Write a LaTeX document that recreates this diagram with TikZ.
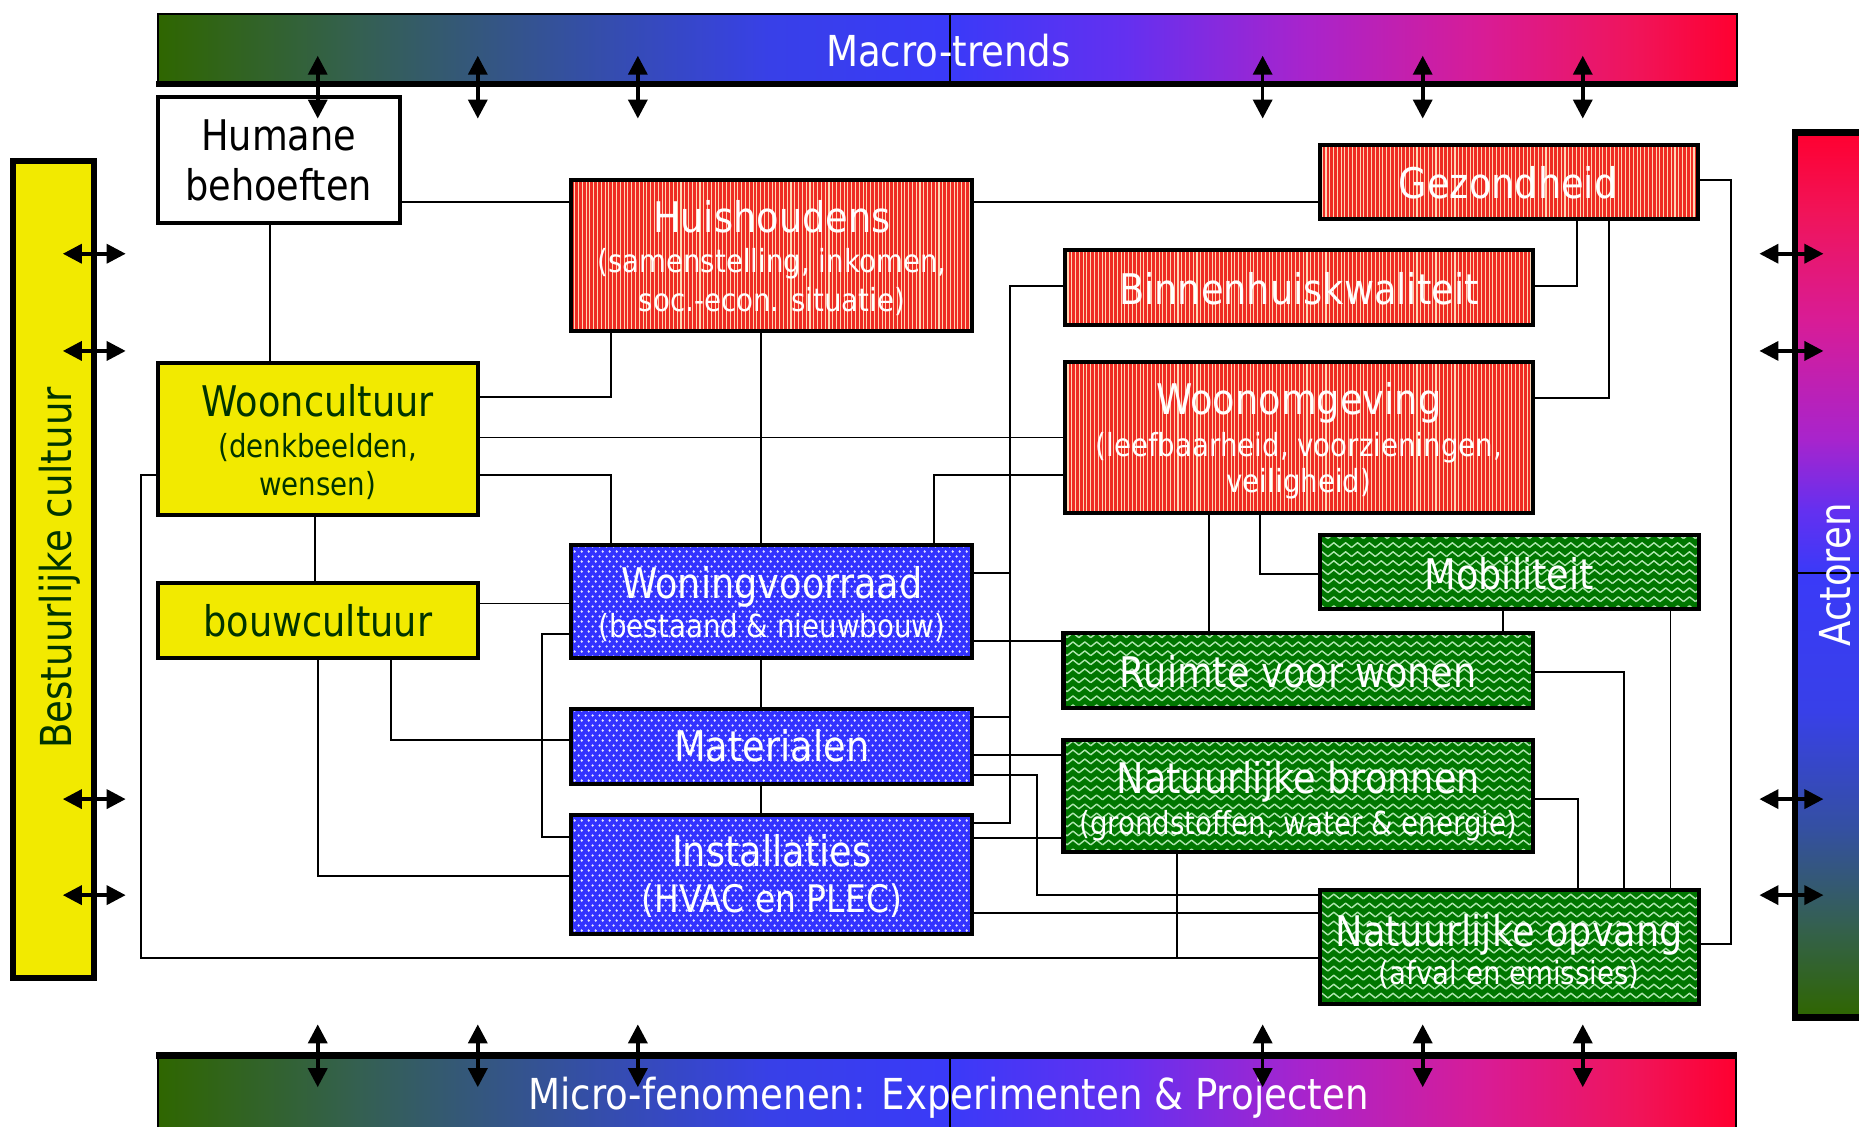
\documentclass[tikz,border=0pt]{standalone}
\usepackage{fontspec}
\setmainfont[FakeStretch=0.87]{DejaVu Sans}
\usetikzlibrary{arrows.meta,patterns}
\pgfdeclarelayer{bg}
\pgfsetlayers{bg,main}

\definecolor{redc}{RGB}{238,44,36}
\definecolor{stripec}{RGB}{255,214,180}
\definecolor{bluec}{RGB}{51,51,255}
\definecolor{dotc}{RGB}{230,230,255}
\definecolor{greenc}{RGB}{0,118,0}
\definecolor{zigc}{RGB}{175,230,175}
\definecolor{yel}{RGB}{242,234,0}
\definecolor{dkg}{RGB}{0,51,0}
% gradient colours
\definecolor{ga}{RGB}{47,102,0}
\definecolor{gb}{RGB}{52,96,80}
\definecolor{gc}{RGB}{52,80,160}
\definecolor{gd}{RGB}{56,64,232}
\definecolor{ge}{RGB}{58,58,248}
\definecolor{gf}{RGB}{100,48,240}
\definecolor{gg}{RGB}{168,36,204}
\definecolor{gh}{RGB}{216,28,150}
\definecolor{gi}{RGB}{240,20,90}
\definecolor{gj}{RGB}{255,0,48}

\pgfdeclarepatternformonly{vstripes}{\pgfqpoint{-0.1pt}{-0.1pt}}{\pgfqpoint{1.7pt}{1.7pt}}{\pgfqpoint{1.6pt}{1.6pt}}{%
  \pgfsetlinewidth{0.45pt}%
  \pgfpathmoveto{\pgfqpoint{0.8pt}{-0.1pt}}\pgfpathlineto{\pgfqpoint{0.8pt}{1.7pt}}\pgfusepath{stroke}}
\pgfdeclarepatternformonly{bdots}{\pgfqpoint{0pt}{0pt}}{\pgfqpoint{2.8pt}{4.2pt}}{\pgfqpoint{2.8pt}{4.2pt}}{%
  \pgfpathcircle{\pgfqpoint{0.7pt}{1.05pt}}{0.55pt}%
  \pgfpathcircle{\pgfqpoint{2.1pt}{3.15pt}}{0.55pt}%
  \pgfusepath{fill}}
\pgfdeclarepatternformonly{gzig}{\pgfqpoint{-0.5pt}{-0.5pt}}{\pgfqpoint{5.5pt}{4.3pt}}{\pgfqpoint{5pt}{3.8pt}}{%
  \pgfsetlinewidth{0.6pt}\pgfsetroundjoin%
  \pgfpathmoveto{\pgfqpoint{0pt}{0.9pt}}%
  \pgfpathlineto{\pgfqpoint{2.5pt}{2.9pt}}%
  \pgfpathlineto{\pgfqpoint{5pt}{0.9pt}}%
  \pgfusepath{stroke}}

\newcommand\fbig{\fontsize{17.8}{20}\selectfont}
\newcommand\fsub{\fontsize{13.4}{16}\selectfont}
\newcommand\fmid{\fontsize{16}{19}\selectfont}
\newcommand\fbar{\fontsize{18}{21}\selectfont}

\tikzset{
  boxbase/.style={draw=black, line width=1.7pt, inner sep=0pt, outer sep=0pt, anchor=north west},
  whitebox/.style={boxbase, fill=white},
  redbox/.style={boxbase, preaction={fill=redc}, pattern=vstripes, pattern color=stripec},
  bluebox/.style={boxbase, preaction={fill=bluec}, pattern=bdots, pattern color=dotc},
  greenbox/.style={boxbase, preaction={fill=greenc}, pattern=gzig, pattern color=zigc},
  yelbox/.style={boxbase, fill=yel},
  tw/.style={anchor=base, inner sep=0pt, text=white},
  tg/.style={anchor=base, inner sep=0pt, text=dkg},
  tb/.style={anchor=base, inner sep=0pt, text=black},
  conn/.style={line width=0.8pt, draw=black},
  dbl/.style={line width=1.5pt, >={Triangle[length=8pt 0 0,width=8pt 0 0]}, <->},
}
\newcommand\mkbox[6]{\node[#1, minimum width={(#5-#3)*0.5pt}, minimum height={(#6-#4)*0.5pt}] (#2) at (#3,#4) {};}

\begin{document}
\begin{tikzpicture}[x=0.5pt, y=-0.5pt]
\useasboundingbox (0,0) rectangle (1568,950);
\clip (0,0) rectangle (1568,950);

% ---------- top bar ----------
\shade[left color=ga, right color=gb] (133,13) rectangle (300.5,69);
\shade[left color=gb, right color=gc] (300,13) rectangle (480.5,69);
\shade[left color=gc, right color=gd] (480,13) rectangle (650.5,69);
\shade[left color=gd, right color=ge] (650,13) rectangle (801,69);
\shade[left color=ge, right color=gf] (801,13) rectangle (950.5,69);
\shade[left color=gf, right color=gg] (950,13) rectangle (1100.5,69);
\shade[left color=gg, right color=gh] (1100,13) rectangle (1250.5,69);
\shade[left color=gh, right color=gi] (1250,13) rectangle (1380.5,69);
\shade[left color=gi, right color=gj] (1380,13) rectangle (1465,69);
\draw[line width=0.8pt] (133,71) -- (133,12) -- (1465,12) -- (1465,71);
\draw[line width=2.6pt] (132,71) -- (1466,71);
\draw[line width=0.8pt] (801,12) -- (801,70);
\node[tw, font=\fbar] (macro) at (800,56) {Macro-trends};

% ---------- bottom bar ----------
\shade[left color=ga, right color=gb] (133,891) rectangle (300.5,960);
\shade[left color=gb, right color=gc] (300,891) rectangle (480.5,960);
\shade[left color=gc, right color=gd] (480,891) rectangle (650.5,960);
\shade[left color=gd, right color=ge] (650,891) rectangle (801,960);
\shade[left color=ge, right color=gf] (801,891) rectangle (950.5,960);
\shade[left color=gf, right color=gg] (950,891) rectangle (1100.5,960);
\shade[left color=gg, right color=gh] (1100,891) rectangle (1250.5,960);
\shade[left color=gh, right color=gi] (1250,891) rectangle (1380.5,960);
\shade[left color=gi, right color=gj] (1380,891) rectangle (1464,960);
\draw[line width=0.8pt] (133,890) -- (133,960);
\draw[line width=0.8pt] (1464,890) -- (1464,960);
\draw[line width=2.8pt] (132,890) -- (1465,890);
\draw[line width=0.8pt] (801,890) -- (801,960);
\node[tw, font=\fbar] (micro) at (800,936) {Micro-fenomenen: Experimenten \& Projecten};

% ---------- left bar ----------
\draw[line width=2.6pt, fill=yel] (11,136) rectangle (79,825);
\node[tg, rotate=90, font=\fbar] (bestuur) at (60,479) {Bestuurlijke cultuur};

% ---------- right bar ----------
\shade[top color=gj, bottom color=gi] (1514,112) rectangle (1590,180.5);
\shade[top color=gi, bottom color=gh] (1514,180) rectangle (1590,270.5);
\shade[top color=gh, bottom color=gg] (1514,270) rectangle (1590,370.5);
\shade[top color=gg, bottom color=gf] (1514,370) rectangle (1590,430.5);
\shade[top color=gf, bottom color=ge] (1514,430) rectangle (1590,483.5);
\shade[top color=ge, bottom color=gd] (1514,483) rectangle (1590,600.5);
\shade[top color=gd, bottom color=gc] (1514,600) rectangle (1590,700.5);
\shade[top color=gc, bottom color=gb] (1514,700) rectangle (1590,780.5);
\shade[top color=gb, bottom color=ga] (1514,780) rectangle (1590,858);
\draw[line width=2.8pt] (1514,112) rectangle (1590,858);
\draw[line width=0.8pt] (1512,483) -- (1568,483);
\node[tw, rotate=90, font=\fbar] (actoren) at (1561,485) {Actoren};

% ---------- boxes ----------
\mkbox{whitebox}{hum}{133}{82}{337}{188}
\mkbox{redbox}{hh}{482}{152}{820}{279}
\mkbox{redbox}{gz}{1113}{122}{1432}{185}
\mkbox{redbox}{bk}{898}{211}{1293}{274}
\mkbox{redbox}{wo}{898}{305}{1293}{433}
\mkbox{yelbox}{wc}{133}{306}{403}{434}
\mkbox{yelbox}{bc}{133}{492}{403}{555}
\mkbox{bluebox}{wv}{482}{460}{820}{555}
\mkbox{bluebox}{ma}{482}{598}{820}{661}
\mkbox{bluebox}{in}{482}{687}{820}{788}
\mkbox{greenbox}{mo}{1113}{451}{1433}{514}
\mkbox{greenbox}{rv}{897}{534}{1293}{597}
\mkbox{greenbox}{nb}{897}{624}{1293}{719}
\mkbox{greenbox}{no}{1113}{751}{1433}{847}

% ---------- box texts ----------
\node[tb, font=\fbig] (hum1) at (235,127) {Humane};
\node[tb, font=\fbig] (hum2) at (235,169) {behoeften};

\node[tw, font=\fbig] (hh1) at (651,196) {Huishoudens};
\node[tw, font=\fsub] (hh2) at (651,230) {(samenstelling, inkomen,};
\node[tw, font=\fsub] (hh3) at (651,263) {soc.-econ. situatie)};

\node[tw, font=\fbig] (gz1) at (1272,167) {Gezondheid};
\node[tw, font=\fbig] (bk1) at (1095.5,256.5) {Binnenhuiskwaliteit};

\node[tw, font=\fbig] (wo1) at (1095.5,350) {Woonomgeving};
\node[tw, font=\fsub] (wo2) at (1095.5,385) {(leefbaarheid, voorzieningen,};
\node[tw, font=\fsub] (wo3) at (1095.5,415) {veiligheid)};

\node[tg, font=\fbig] (wc1) at (268,351) {Wooncultuur};
\node[tg, font=\fsub] (wc2) at (268,385.5) {(denkbeelden,};
\node[tg, font=\fsub] (wc3) at (268,417.5) {wensen)};

\node[tg, font=\fbig] (bc1) at (268,537) {bouwcultuur};

\node[tw, font=\fbig] (wv1) at (651,504.5) {Woningvoorraad};
\node[tw, font=\fsub] (wv2) at (651,537.5) {(bestaand \& nieuwbouw)};

\node[tw, font=\fbig] (ma1) at (651,642.5) {Materialen};

\node[tw, font=\fbig] (in1) at (651,731) {Installaties};
\node[tw, font=\fmid] (in2) at (651,770) {(HVAC en PLEC)};

\node[tw, font=\fbig] (mo1) at (1273,497) {Mobiliteit};
\node[tw, font=\fbig] (rv1) at (1095,580) {Ruimte voor wonen};

\node[tw, font=\fbig] (nb1) at (1095,669) {Natuurlijke bronnen};
\node[tw, font=\fsub] (nb2) at (1095,704) {(grondstoffen, water \& energie)};

\node[tw, font=\fbig] (no1) at (1273,798.5) {Natuurlijke opvang};
\node[tw, font=\fsub] (no2) at (1273,830) {(afval en emissies)};

% ---------- connectors ----------
\coordinate (t1) at (852,483);
\coordinate (t2) at (852,605);
\coordinate (j1) at (993,808);
\begin{pgfonlayer}{bg}
\draw[conn] (hum.east |- 0,170) -- (hh.west |- 0,170);
\draw[conn] (hh.east |- 0,170) -- (gz.west |- 0,170);
\draw[conn] (hum.south -| 228,0) -- (wc.north -| 228,0);
\draw[conn] (wc.east |- 0,335) -| (hh.south -| 515,0);
\draw[conn] (wc.east |- 0,369) -- (wo.west |- 0,369);
\draw[conn] (wc.east |- 0,401) -| (wv.north -| 515,0);
\draw[conn] (hh.south -| 642,0) -- (wv.north -| 642,0);
\draw[conn] (wo.west |- 0,401) -| (wv.north -| 788,0);
\draw[conn] (wc.south -| 266,0) -- (bc.north -| 266,0);
\draw[conn] (wc.west |- 0,401) -- ++(-14,0) |- (no.west |- 0,808);
\draw[conn] (nb.south -| j1) -- (j1);
\draw[conn] (bc.east |- 0,509) -- (wv.west |- 0,509);
\draw[conn] (bc.south -| 330,0) |- (ma.west |- 0,624);
\draw[conn] (bc.south -| 268,0) |- (in.west |- 0,739);
\draw[conn] (wv.west |- 0,535) -- ++(-25,0) |- (in.west |- 0,706);
\draw[conn] (wv.south -| 642,0) -- (ma.north -| 642,0);
\draw[conn] (ma.south -| 642,0) -- (in.north -| 642,0);
\draw[conn] (bk.west |- 0,241) -- ++(-46,0) |- (in.east |- 0,694);
\draw[conn] (wv.east |- t1) -- (t1);
\draw[conn] (ma.east |- t2) -- (t2);
\draw[conn] (wv.east |- 0,541) -- (rv.west |- 0,541);
\draw[conn] (ma.east |- 0,637) -- (nb.west |- 0,637);
\draw[conn] (ma.east |- 0,654) -- ++(55,0) |- (no.west |- 0,755);
\draw[conn] (in.east |- 0,707) -- (nb.west |- 0,707);
\draw[conn] (in.east |- 0,770) -- (no.west |- 0,770);
\draw[conn] (wo.south -| 1020,0) -- (rv.north -| 1020,0);
\draw[conn] (wo.south -| 1063,0) |- (mo.west |- 0,484);
\draw[conn] (mo.south -| 1268,0) -- (rv.north -| 1268,0);
\draw[conn] (mo.south -| 1409,0) -- (no.north -| 1409,0);
\draw[conn] (rv.east |- 0,567) -| (no.north -| 1370,0);
\draw[conn] (nb.east |- 0,674) -| (no.north -| 1331,0);
\draw[conn] (gz.east |- 0,152) -- ++(28,0) |- (no.east |- 0,796);
\draw[conn] (gz.south -| 1330,0) |- (bk.east |- 0,241);
\draw[conn] (gz.south -| 1357,0) |- (wo.east |- 0,336);
\end{pgfonlayer}

% ---------- double arrows ----------
\foreach \xx in {268,403,538,1065,1200,1335} {
  \draw[dbl] (\xx,47) -- (\xx,100);
  \draw[dbl] (\xx,864) -- (\xx,917);
}
\foreach \yy in {214,296,674,755} {
  \draw[dbl] (53,\yy) -- (106,\yy);
  \draw[dbl] (1484,\yy) -- (1538,\yy);
}
\end{tikzpicture}
\end{document}
